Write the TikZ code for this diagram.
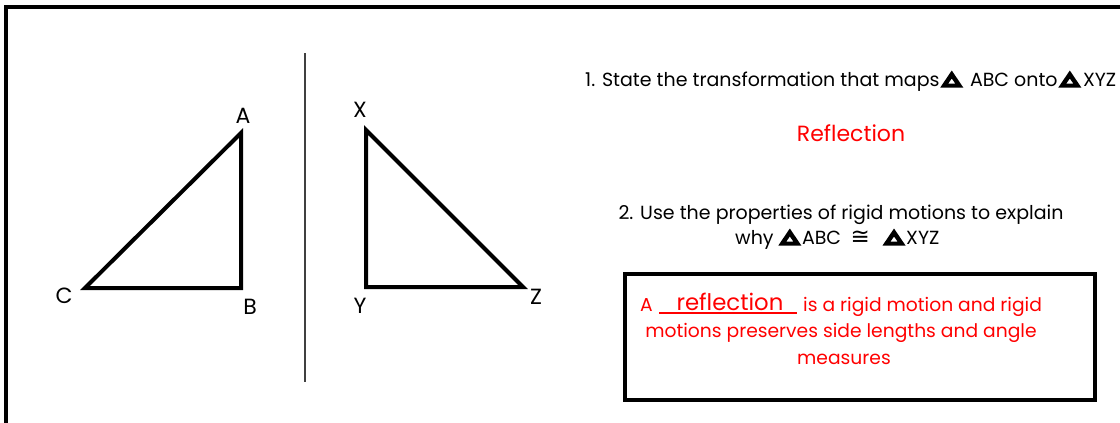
\documentclass[tikz,border=0pt]{standalone}
\usepackage{fontspec}
\setmainfont{Poppins}
\newfontfamily\symfont{DejaVu Sans}
\begin{document}
\begin{tikzpicture}[x=1pt,y=-1pt,
  tri/.style={draw=black,line width=4pt,line join=miter},
  lbl/.style={font=\fontsize{22}{26}\selectfont,inner sep=0pt},
  qtext/.style={font=\fontsize{19}{23}\selectfont,inner sep=0pt,anchor=base},
  seg/.style={qtext,anchor=base west},
  ans/.style={font=\fontsize{18.7}{23}\selectfont,inner sep=0pt,anchor=base,text=red},
  tglyph/.pic={\fill[black,even odd rule] (0.5,1.5) -- (23.5,1.5) -- (12,-15.5) -- cycle
      (8.5,-2.5) -- (15.5,-2.5) -- (12,-7.5) -- cycle;}]
\useasboundingbox (0,0) rectangle (1120,423);
% outer frame
\draw[line width=4pt] (6,425) -- (6,7) -- (1122,7);
% mirror line
\draw[line width=1.6pt,black!75] (305,53) -- (305,382);
% triangle ABC
\coordinate (A) at (241,133);
\coordinate (B) at (241,288);
\coordinate (C) at (85,288);
\draw[tri] (A) -- (B) -- (C) -- cycle;
\node[lbl] (lA) at (243,116) {A};
\node[lbl] (lB) at (250,307) {B};
\node[lbl] (lC) at (64,296) {C};
% triangle XYZ
\coordinate (X) at (366,130);
\coordinate (Y) at (366,287);
\coordinate (Z) at (523,287);
\draw[tri] (X) -- (Y) -- (Z) -- cycle;
\node[lbl] (lX) at (360,110) {X};
\node[lbl] (lY) at (360,306) {Y};
\node[lbl] (lZ) at (536,297) {Z};
% question 1
\node[seg] (q1a) at (585,86) {1. State the transformation that maps};
\pic at (q1a.base east) {tglyph};
\node[seg,xshift=25pt] (q1b) at (q1a.base east) {\ ABC onto};
\pic at (q1b.base east) {tglyph};
\node[seg,xshift=25pt] (q1c) at (q1b.base east) {XYZ};
\node[ans,font=\fontsize{22}{26}\selectfont] (r1) at (851,141) {Reflection};
% question 2
\node[qtext] (q2a) at (841,219) {2. Use the properties of rigid motions to explain};
\node[seg] (q2b) at (735,244) {why};
\pic[xshift=4pt] at (q2b.base east) {tglyph};
\node[seg,xshift=28pt] (q2c) at (q2b.base east) {ABC};
\node[seg,xshift=9pt,font=\symfont\fontsize{23}{26}\selectfont] (q2e) at (q2c.base east) {≅};
\pic[xshift=12pt] at (q2e.base east) {tglyph};
\node[seg,xshift=36pt] (q2d) at (q2e.base east) {XYZ};
% answer box
\node[draw=black,line width=3.5pt,minimum width=470pt,minimum height=126pt,inner sep=0pt] (box) at (860,337) {};
\node[ans,anchor=base west] (aA) at (640,311) {A};
\draw[red,line width=1.1pt] (659,313) -- (797,313);
\node[ans,font=\fontsize{22.8}{26}\selectfont] (aref) at (730,310) {reflection};
\node[ans,anchor=base west] (a1) at (803,311) {is a rigid motion and rigid};
\node[ans] (a2) at (841,337) {motions preserves side lengths and angle};
\node[ans] (a3) at (844,364) {measures};
\end{tikzpicture}
\end{document}
